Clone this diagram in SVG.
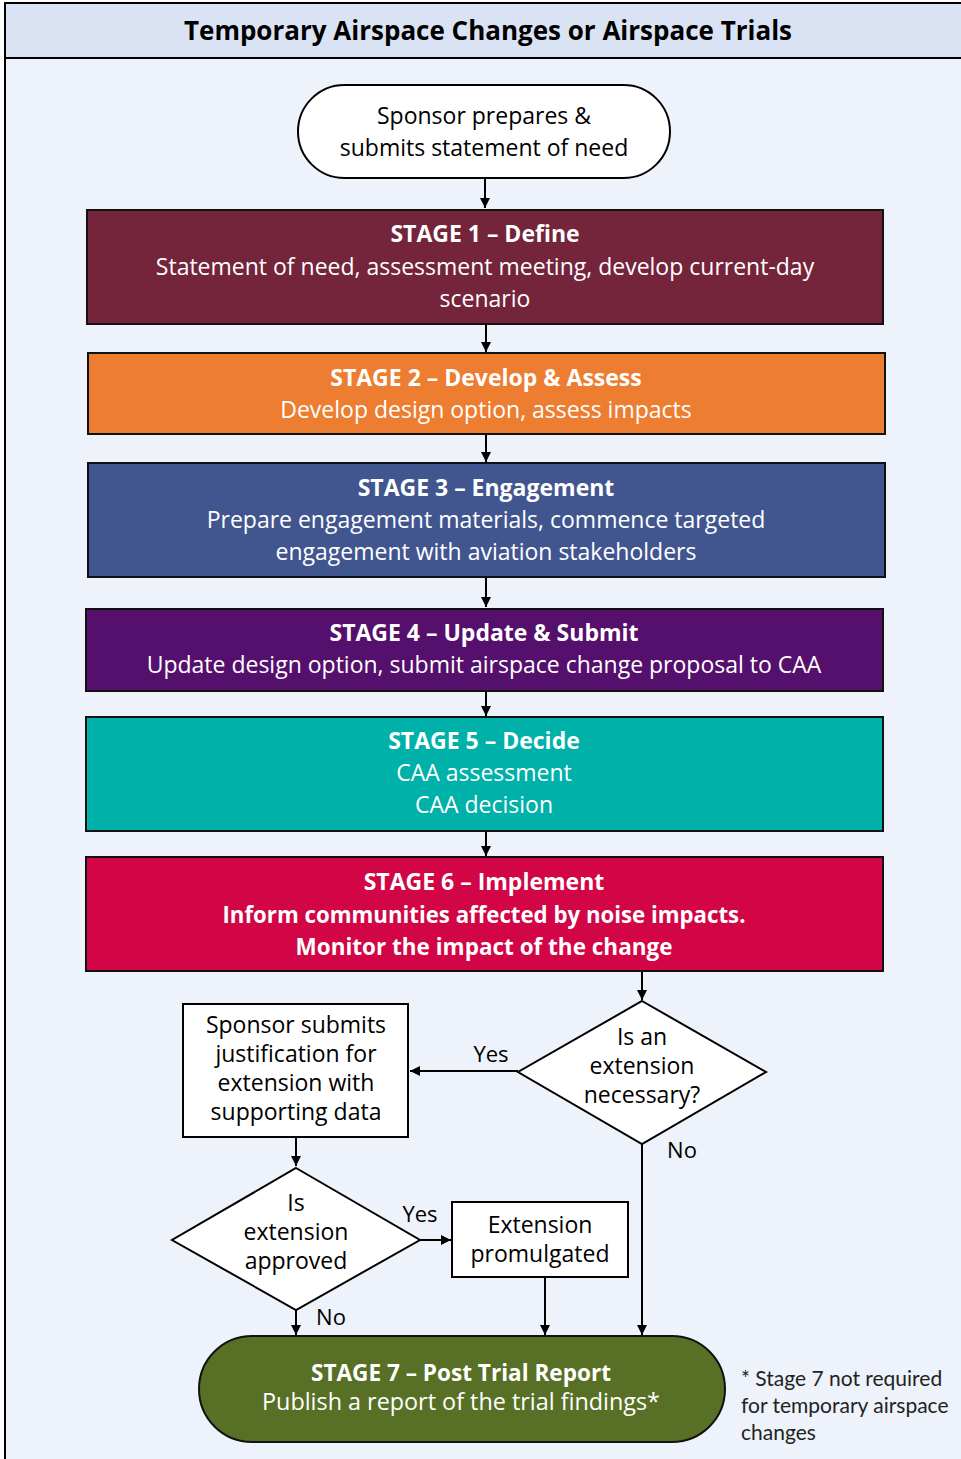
<svg xmlns="http://www.w3.org/2000/svg" width="961" height="1459" viewBox="0 0 961 1459">
<defs>
<marker id="ah" viewBox="0 0 10 10" refX="10" refY="5" markerWidth="10" markerHeight="10" markerUnits="userSpaceOnUse" orient="auto">
<path d="M0,0 L10,5 L0,10 z" fill="#000"/>
</marker>
<style>
text{font-family:"Open Sans","Liberation Sans",sans-serif;text-anchor:middle}
.t{font-size:23px;fill:#000}
.w{font-size:23px;fill:#fff}
.wb{font-size:23px;fill:#fff;font-weight:bold}
.lbl{font-size:22px;fill:#000}
.note{font-family:Lato,"Liberation Sans",sans-serif;font-size:21px;fill:#222;text-anchor:start}
.stage{stroke:#111;stroke-width:2}
.wbox{fill:#fff;stroke:#000;stroke-width:2}
.con{stroke:#000;stroke-width:2;fill:none;marker-end:url(#ah)}
</style>
</defs>
<rect x="0" y="0" width="961" height="1459" fill="#fff"/>
<rect x="5" y="3" width="960" height="1460" fill="#EEF2FA" stroke="#000" stroke-width="2"/>
<rect x="5" y="3" width="960" height="55" fill="#DAE3F3" stroke="#000" stroke-width="2"/>
<text x="488" y="40" style="font-size:26px;font-weight:bold;fill:#000">Temporary Airspace Changes or Airspace Trials</text>

<g id="connectors">
<line class="con" x1="485" y1="178" x2="485" y2="208"/>
<line class="con" x1="486" y1="324" x2="486" y2="352"/>
<line class="con" x1="486" y1="434" x2="486" y2="462"/>
<line class="con" x1="486" y1="577" x2="486" y2="607"/>
<line class="con" x1="486" y1="691" x2="486" y2="716"/>
<line class="con" x1="486" y1="831" x2="486" y2="856"/>
<line class="con" x1="642" y1="971" x2="642" y2="1000"/>
<line class="con" x1="518" y1="1071" x2="410" y2="1071"/>
<text class="lbl" x="491" y="1062">Yes</text>
<line class="con" x1="296" y1="1137" x2="296" y2="1166"/>
<line class="con" x1="420" y1="1240" x2="451" y2="1240"/>
<text class="lbl" x="420" y="1222">Yes</text>
<line class="con" x1="545" y1="1277" x2="545" y2="1335"/>
<line class="con" x1="642" y1="1144" x2="642" y2="1335"/>
<text class="lbl" x="682" y="1158">No</text>
<line class="con" x1="296" y1="1310" x2="296" y2="1335"/>
<text class="lbl" x="331" y="1325">No</text>
</g>

<g id="start">
<rect class="wbox" x="298" y="85" width="372" height="93" rx="46.5" ry="46.5"/>
<text class="t" x="484" y="124">Sponsor prepares &amp;</text>
<text class="t" x="484" y="156">submits statement of need</text>
</g>

<g id="stage1">
<rect class="stage" x="87" y="210" width="796" height="114" fill="#74243B"/>
<text class="wb" x="485" y="242">STAGE 1 – Define</text>
<text class="w" x="485" y="275">Statement of need, assessment meeting, develop current-day</text>
<text class="w" x="485" y="307">scenario</text>
</g>

<g id="stage2">
<rect class="stage" x="88" y="353" width="797" height="81" fill="#ED7D31"/>
<text class="wb" x="486" y="386">STAGE 2 – Develop &amp; Assess</text>
<text class="w" x="486" y="418">Develop design option, assess impacts</text>
</g>

<g id="stage3">
<rect class="stage" x="88" y="463" width="797" height="114" fill="#41568F"/>
<text class="wb" x="486" y="496">STAGE 3 – Engagement</text>
<text class="w" x="486" y="528">Prepare engagement materials, commence targeted</text>
<text class="w" x="486" y="560">engagement with aviation stakeholders</text>
</g>

<g id="stage4">
<rect class="stage" x="86" y="609" width="797" height="82" fill="#550F6C"/>
<text class="wb" x="484" y="641">STAGE 4 – Update &amp; Submit</text>
<text class="w" x="484" y="673">Update design option, submit airspace change proposal to CAA</text>
</g>

<g id="stage5">
<rect class="stage" x="86" y="717" width="797" height="114" fill="#00B1A9"/>
<text class="wb" x="484" y="749">STAGE 5 – Decide</text>
<text class="w" x="484" y="781">CAA assessment</text>
<text class="w" x="484" y="813">CAA decision</text>
</g>

<g id="stage6">
<rect class="stage" x="86" y="857" width="797" height="114" fill="#D20546"/>
<text class="wb" x="484" y="890">STAGE 6 – Implement</text>
<text class="wb" x="484" y="923" textLength="523" lengthAdjust="spacingAndGlyphs">Inform communities affected by noise impacts.</text>
<text class="wb" x="484" y="955" textLength="377" lengthAdjust="spacingAndGlyphs">Monitor the impact of the change</text>
</g>

<g id="decision1">
<polygon class="wbox" points="642,1001 766,1072 642,1144 518,1072"/>
<text class="t" x="642" y="1045">Is an</text>
<text class="t" x="642" y="1074">extension</text>
<text class="t" x="642" y="1103">necessary?</text>
</g>

<g id="justify">
<rect class="wbox" x="183" y="1004" width="225" height="133"/>
<text class="t" x="296" y="1033">Sponsor submits</text>
<text class="t" x="296" y="1062">justification for</text>
<text class="t" x="296" y="1091">extension with</text>
<text class="t" x="296" y="1120">supporting data</text>
</g>

<g id="decision2">
<polygon class="wbox" points="296,1168 420,1240 296,1310 172,1240"/>
<text class="t" x="296" y="1211">Is</text>
<text class="t" x="296" y="1240">extension</text>
<text class="t" x="296" y="1269">approved</text>
</g>

<g id="promulgated">
<rect class="wbox" x="452" y="1202" width="176" height="75"/>
<text class="t" x="540" y="1233">Extension</text>
<text class="t" x="540" y="1262">promulgated</text>
</g>

<g id="stage7">
<rect class="stage" x="199" y="1336" width="526" height="106" rx="53" ry="53" fill="#587025"/>
<text class="wb" x="461" y="1381" textLength="300" lengthAdjust="spacingAndGlyphs">STAGE 7 – Post Trial Report</text>
<text class="w" x="461" y="1410" textLength="398" lengthAdjust="spacingAndGlyphs">Publish a report of the trial findings*</text>
</g>

<g id="footnote">
<text class="note" x="741" y="1386">* Stage 7 not required</text>
<text class="note" x="741" y="1413">for temporary airspace</text>
<text class="note" x="741" y="1440">changes</text>
</g>
</svg>
